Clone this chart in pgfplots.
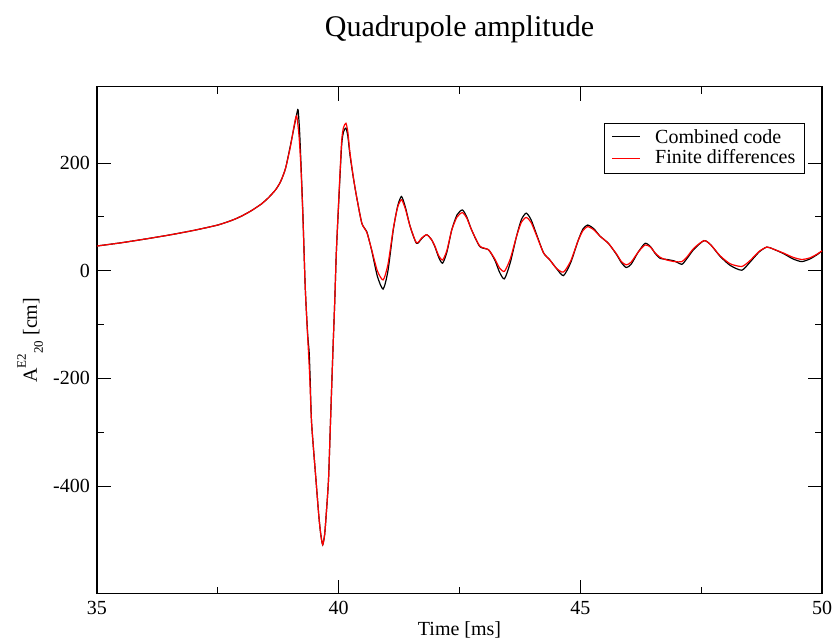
\documentclass[border=0pt]{standalone}
\usepackage{pgfplots}
\pgfplotsset{compat=1.18}
\usepackage{fontspec}
\setmainfont{Liberation Serif}

\begin{document}
\begin{tikzpicture}
\begin{axis}[
  scale only axis,
  width=725pt, height=507pt,
  xmin=35, xmax=50,
  ymin=-600, ymax=342,
  xtick={35,40,45,50}, xticklabels={35,40,45,50},
  ytick={-400,-200,0,200}, yticklabels={-400,-200,0,200},
  minor x tick num=1, minor y tick num=1,
  tick align=inside,
  major tick length=14pt, minor tick length=7pt,
  every tick/.style={black, line width=1pt},
  axis line style={line width=1.5pt},
  tick label style={font=\fontsize{20}{24}\selectfont},
  xticklabel style={anchor=base, inner sep=0pt, yshift=-21.3pt},
  yticklabel style={anchor=east, inner sep=0pt, xshift=-7pt},
  clip=false,
]
% Combined code
\addplot[black, line width=1.2pt, smooth, tension=0.4] coordinates {
 (35.0,46) (35.5,52) (36.0,59) (36.5,66.5) (37.0,75) (37.5,85) (37.8,94)
 (38.0,102) (38.2,112) (38.4,124) (38.55,136) (38.7,151) (38.8,166)
 (38.9,190) (39.0,232) (39.08,268) (39.13,290) (39.16,299) (39.19,262)
 (39.22,200) (39.26,105) (39.30,-10) (39.32,-54) (39.36,-120) (39.39,-152)
 (39.41,-200) (39.44,-283) (39.53,-388) (39.59,-456) (39.63,-490) (39.67,-509)
 (39.71,-490) (39.74,-456) (39.79,-388) (39.83,-283) (39.88,-152) (39.92,-54)
 (39.95,30) (39.99,107) (40.06,231) (40.10,258) (40.15,265) (40.19,250)
 (40.23,218) (40.30,175) (40.37,138) (40.48,88) (40.58,73) (40.68,39)
 (40.80,-10) (40.92,-34) (41.02,0) (41.13,76) (41.22,120) (41.30,138)
 (41.38,118) (41.48,82) (41.61,51) (41.72,60) (41.82,67) (41.92,58)
 (41.99,45) (42.07,25) (42.15,14) (42.24,35) (42.34,76) (42.45,104)
 (42.56,113) (42.65,100) (42.75,76) (42.92,45) (43.10,39) (43.23,20)
 (43.33,-3) (43.43,-15) (43.55,15) (43.68,64) (43.78,95) (43.88,107)
 (43.98,95) (44.10,66) (44.24,33) (44.37,20) (44.50,5) (44.65,-9)
 (44.80,15) (44.95,55) (45.05,77) (45.15,85) (45.28,78) (45.41,64)
 (45.58,51) (45.75,30) (45.85,15) (45.95,6) (46.05,12) (46.20,35)
 (46.34,51) (46.45,45) (46.55,32) (46.65,23) (46.79,21) (46.95,18)
 (47.10,12) (47.20,22) (47.35,40) (47.56,56) (47.70,48) (47.89,27)
 (48.10,10) (48.34,1) (48.50,15) (48.70,35) (48.86,44) (49.00,40)
 (49.20,32) (49.40,22) (49.58,17) (49.75,22) (49.90,30) (50.0,37)
};
% Finite differences
\addplot[red, line width=1.2pt, smooth, tension=0.4] coordinates {
 (35.0,46) (35.5,52) (36.0,59) (36.5,66.5) (37.0,75) (37.5,85) (37.8,94)
 (38.0,102) (38.2,112) (38.4,124) (38.55,136) (38.7,151) (38.8,166)
 (38.9,190) (39.0,230) (39.08,270) (39.13,288) (39.18,250) (39.22,190)
 (39.26,100) (39.30,-10) (39.32,-54) (39.36,-125) (39.40,-195) (39.44,-283)
 (39.53,-388) (39.59,-456) (39.63,-490) (39.67,-509) (39.71,-490) (39.74,-456)
 (39.79,-388) (39.83,-283) (39.88,-152) (39.92,-54) (39.95,30) (39.99,110)
 (40.06,238) (40.10,266) (40.15,274) (40.19,258) (40.23,222) (40.30,176)
 (40.37,138) (40.48,88) (40.58,72) (40.68,40) (40.80,0) (40.92,-17)
 (41.02,12) (41.13,78) (41.22,118) (41.30,132) (41.38,115) (41.48,82)
 (41.61,52) (41.72,61) (41.82,67) (41.92,58) (41.99,46) (42.07,28)
 (42.15,20) (42.24,38) (42.34,76) (42.45,100) (42.56,108) (42.65,98)
 (42.75,76) (42.92,46) (43.10,39) (43.23,22) (43.33,5) (43.43,-1)
 (43.55,22) (43.68,64) (43.78,90) (43.88,99) (43.98,90) (44.10,64)
 (44.24,33) (44.37,20) (44.50,5) (44.65,-2.5) (44.80,18) (44.95,55)
 (45.05,74) (45.15,82) (45.28,76) (45.41,64) (45.58,51) (45.75,31)
 (45.85,17) (45.95,11) (46.05,16) (46.20,35) (46.34,48) (46.45,44)
 (46.55,33) (46.65,25) (46.79,20) (46.95,17) (47.10,17) (47.20,25)
 (47.35,42) (47.56,56) (47.70,48) (47.89,28) (48.10,13) (48.34,8)
 (48.50,18) (48.70,36) (48.86,44) (49.00,40) (49.20,33) (49.40,25)
 (49.58,21) (49.75,24) (49.90,31) (50.0,37)
};
% titles
\node[anchor=base, font=\fontsize{30}{36}\selectfont]
  at (rel axis cs:0.5,1) [yshift=49.7pt] {Quadrupole amplitude};
\node[anchor=base, font=\fontsize{20}{24}\selectfont]
  at (rel axis cs:0.5,0) [yshift=-42.3pt] {Time [ms]};
\path (rel axis cs:0,0.5) ++(-60pt,0pt) node[anchor=base, rotate=90,
  font=\fontsize{20}{24}\selectfont]
  {A\raisebox{0.55em}{\fontsize{13}{15}\selectfont E2}\raisebox{-0.3em}{\fontsize{13}{15}\selectfont 20} [cm]};
\end{axis}
% legend (axis lower left corner is the origin)
\draw[line width=0.8pt, fill=white] (507pt,420.7pt) rectangle (707pt,470.7pt);
\draw[black, line width=0.8pt] (515pt,457pt) -- (543pt,457pt);
\draw[red, line width=0.8pt] (515pt,435.4pt) -- (543pt,435.4pt);
\node[anchor=base west, inner sep=0pt, font=\fontsize{20}{24}\selectfont]
  at (558pt,450.4pt) {Combined code};
\node[anchor=base west, inner sep=0pt, font=\fontsize{20}{24}\selectfont]
  at (558pt,429.7pt) {Finite differences};
\pgfresetboundingbox
\path[use as bounding box] (-97pt,-45.3pt) rectangle (735pt,593.7pt);
\end{tikzpicture}
\end{document}
